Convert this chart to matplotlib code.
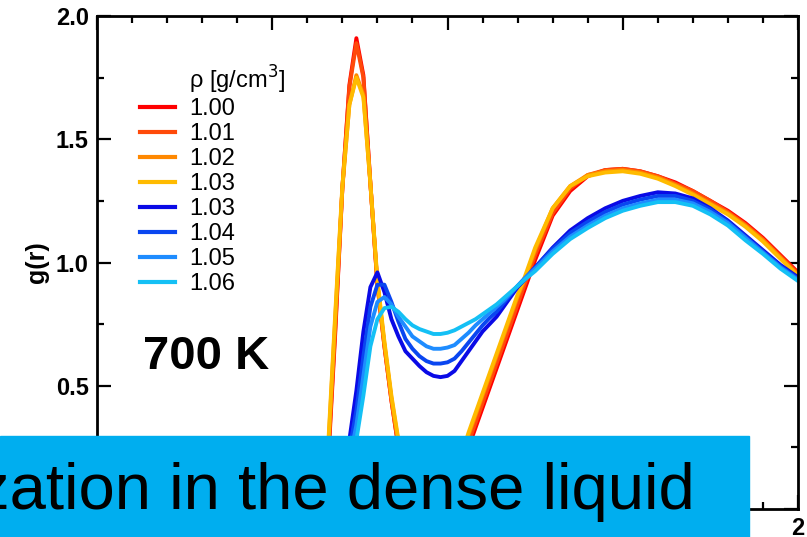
import numpy as np
import matplotlib
matplotlib.use("Agg")
import matplotlib.pyplot as plt
from matplotlib.patches import Rectangle

plt.rcParams['font.family'] = ['Liberation Sans', 'DejaVu Sans']

# r grid in Angstrom
r = [0.50, 0.60, 0.62, 0.64, 0.66, 0.68, 0.70, 0.72, 0.74, 0.76, 0.78, 0.80,
     0.82, 0.84, 0.86, 0.88, 0.90, 0.92, 0.94, 0.96, 0.98, 1.00, 1.02, 1.04,
     1.06, 1.08, 1.10, 1.12, 1.14, 1.16, 1.18, 1.20, 1.22, 1.25, 1.30, 1.35,
     1.40, 1.45, 1.50, 1.55, 1.60, 1.65, 1.70, 1.75, 1.80, 1.85, 1.90, 1.95, 2.00]

# molecular side (red/orange)
g_100 = [0.00, 0.00, 0.00, 0.02, 0.20, 0.72, 1.30, 1.72, 1.91, 1.76, 1.32, 0.91,
         0.66, 0.44, 0.25, 0.12, 0.05, 0.02, 0.01, 0.01, 0.02, 0.05, 0.10, 0.17,
         0.25, 0.33, 0.41, 0.49, 0.57, 0.65, 0.73, 0.81, 0.89, 1.01, 1.19, 1.29,
         1.35, 1.375, 1.38, 1.37, 1.35, 1.325, 1.29, 1.25, 1.21, 1.16, 1.10, 1.03, 0.96]
g_101 = [0.00, 0.00, 0.00, 0.03, 0.22, 0.74, 1.30, 1.71, 1.89, 1.75, 1.32, 0.91,
         0.66, 0.44, 0.25, 0.12, 0.05, 0.02, 0.01, 0.01, 0.02, 0.06, 0.11, 0.18,
         0.27, 0.35, 0.43, 0.51, 0.59, 0.67, 0.75, 0.83, 0.91, 1.03, 1.20, 1.30,
         1.355, 1.375, 1.38, 1.37, 1.35, 1.32, 1.29, 1.25, 1.205, 1.155, 1.095, 1.025, 0.955]
g_102 = [0.00, 0.00, 0.00, 0.04, 0.25, 0.78, 1.30, 1.64, 1.76, 1.68, 1.32, 0.92,
         0.67, 0.45, 0.27, 0.14, 0.06, 0.02, 0.01, 0.01, 0.03, 0.07, 0.13, 0.21,
         0.30, 0.38, 0.46, 0.54, 0.62, 0.70, 0.78, 0.86, 0.93, 1.05, 1.22, 1.31,
         1.355, 1.37, 1.375, 1.365, 1.345, 1.315, 1.28, 1.24, 1.20, 1.15, 1.09, 1.02, 0.95]
g_103 = [0.00, 0.00, 0.00, 0.05, 0.27, 0.80, 1.31, 1.64, 1.75, 1.67, 1.32, 0.93,
         0.68, 0.46, 0.28, 0.15, 0.07, 0.03, 0.01, 0.01, 0.03, 0.08, 0.14, 0.22,
         0.31, 0.39, 0.47, 0.55, 0.63, 0.71, 0.79, 0.87, 0.94, 1.06, 1.22, 1.31,
         1.35, 1.365, 1.37, 1.36, 1.34, 1.31, 1.275, 1.235, 1.195, 1.145, 1.085, 1.015, 0.945]

# polymerized side (blue)
g_103b = [0.00, 0.00, 0.00, 0.01, 0.03, 0.08, 0.18, 0.28, 0.48, 0.72, 0.90, 0.96,
          0.88, 0.77, 0.70, 0.64, 0.61, 0.58, 0.555, 0.54, 0.535, 0.54, 0.56, 0.60,
          0.64, 0.68, 0.72, 0.75, 0.78, 0.82, 0.86, 0.90, 0.93, 0.98, 1.06, 1.13,
          1.18, 1.22, 1.25, 1.27, 1.285, 1.28, 1.26, 1.22, 1.17, 1.11, 1.05, 0.99, 0.94]
g_104 = [0.00, 0.00, 0.00, 0.01, 0.02, 0.06, 0.14, 0.24, 0.40, 0.62, 0.82, 0.91,
         0.91, 0.84, 0.76, 0.69, 0.65, 0.62, 0.60, 0.59, 0.59, 0.595, 0.61, 0.64,
         0.675, 0.71, 0.745, 0.775, 0.80, 0.835, 0.87, 0.905, 0.935, 0.98, 1.055, 1.12,
         1.165, 1.205, 1.235, 1.255, 1.27, 1.27, 1.25, 1.215, 1.165, 1.105, 1.045, 0.985, 0.935]
g_105 = [0.00, 0.00, 0.00, 0.00, 0.02, 0.05, 0.11, 0.20, 0.34, 0.54, 0.74, 0.84,
         0.86, 0.83, 0.78, 0.74, 0.70, 0.68, 0.66, 0.65, 0.65, 0.655, 0.665, 0.69,
         0.715, 0.745, 0.77, 0.795, 0.82, 0.845, 0.875, 0.905, 0.935, 0.975, 1.045, 1.105,
         1.15, 1.19, 1.22, 1.24, 1.255, 1.255, 1.24, 1.205, 1.16, 1.10, 1.04, 0.98, 0.93]
g_106 = [0.00, 0.00, 0.00, 0.00, 0.01, 0.04, 0.09, 0.16, 0.28, 0.46, 0.66, 0.77,
         0.815, 0.82, 0.80, 0.77, 0.745, 0.73, 0.72, 0.71, 0.71, 0.715, 0.725, 0.74,
         0.755, 0.77, 0.79, 0.81, 0.83, 0.855, 0.88, 0.905, 0.93, 0.965, 1.035, 1.095,
         1.14, 1.18, 1.21, 1.23, 1.245, 1.245, 1.23, 1.195, 1.15, 1.09, 1.035, 0.975, 0.925]

labels = ["1.00", "1.01", "1.02", "1.03", "1.03", "1.04", "1.05", "1.06"]
series = [g_100, g_101, g_102, g_103, g_103b, g_104, g_105, g_106]
colors = ["#ff0000", "#ff4a0a", "#ff8800", "#ffbb00",
          "#0a0ae6", "#0a46f0", "#1e8cff", "#14c0f5"]

# only the labels not hidden behind the banner are visible
x_ticks = [0, 0.5, 1.0, 1.5, 2.0]
x_ticklabels = ["", "", "", "", "2"]
y_ticks = [0.0, 0.5, 1.0, 1.5, 2.0]
y_ticklabels = ["", "0.5", "1.0", "1.5", "2.0"]

fig = plt.figure(figsize=(8.07, 5.37), dpi=100)
ax = fig.add_axes([97 / 807, 1 - 509 / 537, 701 / 807, 493 / 537])

lines = []
for g, c, lab in zip(series, colors, labels):
    ln, = ax.plot(r, g, color=c, lw=2.8, label=lab, solid_joinstyle='round')
    lines.append(ln)

ax.set_xlim(0, 2)
ax.set_ylim(0, 2)
ax.set_xticks(x_ticks)
ax.set_xticklabels(x_ticklabels)
ax.set_yticks(y_ticks)
ax.set_yticklabels(y_ticklabels)
ax.set_xticks(np.arange(0, 2.01, 0.1), minor=True)
ax.set_yticks(np.arange(0, 2.01, 0.25), minor=True)
ax.tick_params(which='both', direction='in', top=True, right=True, width=1.6)
ax.tick_params(which='major', length=10, pad=6, labelsize=17)
ax.tick_params(which='minor', length=5)
for lbl in ax.get_xticklabels() + ax.get_yticklabels():
    lbl.set_fontweight('bold')
for sp in ax.spines.values():
    sp.set_linewidth(2)

ax.set_ylabel("g(r)", fontsize=18, fontweight='bold', labelpad=5)

# legend
leg = ax.legend(handles=lines, loc='upper left', frameon=False,
                bbox_to_anchor=(140 / 807, 1 - 98 / 537),
                bbox_transform=fig.transFigure, fontsize=17,
                handlelength=1.48, handletextpad=0.62, labelspacing=0.13,
                borderpad=0, borderaxespad=0)
for h in leg.get_lines():
    h.set_linewidth(3)
fig.text(189 / 807, 1 - 80 / 537, "ρ [g/cm$^3$]", fontsize=17,
         va='center', ha='left')

fig.text(143 / 807, 1 - 357 / 537, "700 K", fontsize=34, fontweight='bold',
         va='center', ha='left')

# banner overlay
fig.patches.append(Rectangle((0, 0), 749 / 807, 101 / 537,
                             transform=fig.transFigure, color="#00aeef",
                             zorder=10))
fig.text(695 / 807, 1 - 509 / 537, "zation in the dense liquid", fontsize=47,
         color='black', ha='right', va='baseline', zorder=11)

fig.savefig("out.png", dpi=100)
